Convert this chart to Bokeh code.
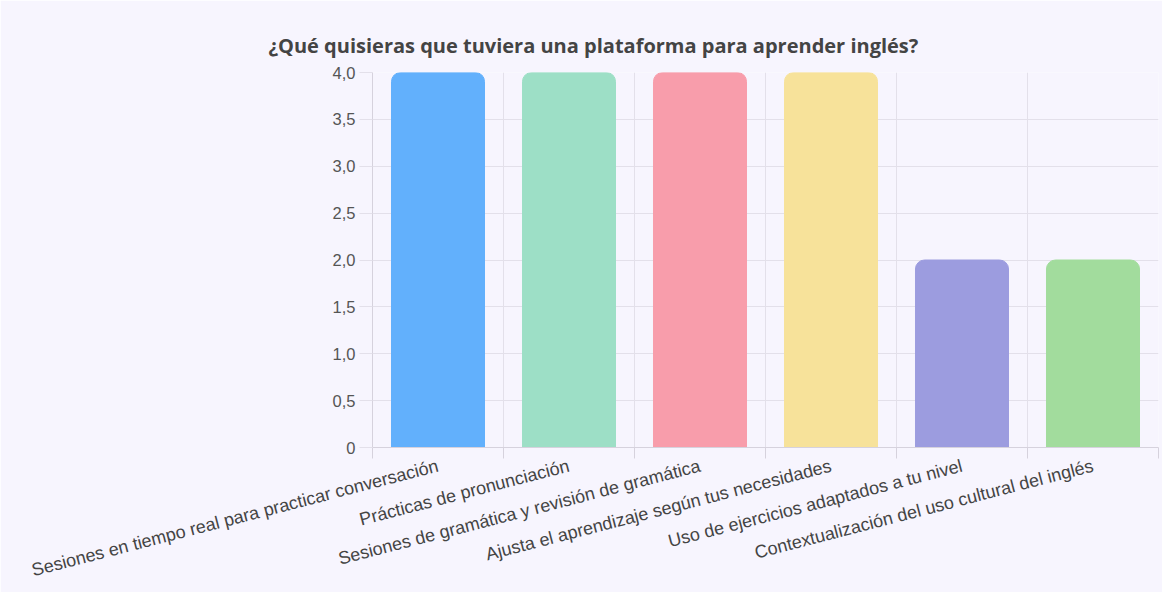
from bokeh.plotting import figure
from bokeh.models import ColumnDataSource, FixedTicker, CustomJSTickFormatter, Range1d
from bokeh.embed import file_html
from bokeh.resources import INLINE
import math

title = "¿Qué quisieras que tuviera una plataforma para aprender inglés?"
categories = [
    "Sesiones en tiempo real para practicar conversación",
    "Prácticas de pronunciación",
    "Sesiones de gramática y revisión de gramática",
    "Ajusta el aprendizaje según tus necesidades",
    "Uso de ejercicios adaptados a tu nivel",
    "Contextualización del uso cultural del inglés",
]
values = [4, 4, 4, 4, 2, 2]
colors = ["#62b0fc", "#9ddfc6", "#f89dab", "#f7e29a", "#9c9cdf", "#a2dc9d"]
y_ticks = [0, 0.5, 1, 1.5, 2, 2.5, 3, 3.5, 4]

n = len(categories)
xs = list(range(n))
src = ColumnDataSource(dict(x=xs, top=values, color=colors, label=categories))

BG = "#f7f5fe"
p = figure(width=1162, height=592, output_backend="svg", toolbar_location=None,
           x_range=Range1d(-0.5, n - 0.5), y_range=Range1d(0, 4),
           background_fill_color=BG, border_fill_color=BG,
           min_border_left=372, min_border_right=4, min_border_top=72, min_border_bottom=139)
p.outline_line_color = None

p.vbar(x="x", top="top", width=0.71, bottom=0, source=src, fill_color="color",
       line_color="color", line_alpha=1, border_radius=(9, 9, 0, 0))

p.title.text = title
p.title.text_font = "Open Sans"
p.title.text_font_size = "20px"
p.title.text_font_style = "bold"
p.title.text_color = "#444444"
p.title.align = "left"
p.title.offset = -104
p.title.standoff = 28

# x axis
boundaries = [i - 0.5 for i in range(n + 1)]
p.xaxis.ticker = FixedTicker(ticks=xs, minor_ticks=boundaries)
p.xaxis.formatter = CustomJSTickFormatter(args=dict(labels=categories),
                                          code="return labels[Math.round(tick)] || '';")
p.xaxis.major_label_orientation = math.radians(14.5)
p.xaxis.major_tick_line_color = None
p.xaxis.minor_tick_out = 11
p.xaxis.minor_tick_in = 0
p.xaxis.minor_tick_line_color = "#d6d2dd"
p.xaxis.axis_line_color = "#d6d2dd"
p.xaxis.major_label_text_font = "Liberation Sans"
p.xaxis.major_label_text_font_size = "18px"
p.xaxis.major_label_text_color = "#444444"
p.xaxis.major_label_standoff = 7
p.xgrid.ticker = FixedTicker(ticks=boundaries)
p.xgrid.grid_line_color = "#e3e0ea"

# y axis
p.yaxis.ticker = FixedTicker(ticks=y_ticks)
p.yaxis.formatter = CustomJSTickFormatter(
    code="return tick == 0 ? '0' : tick.toFixed(1).replace('.', ',');")
p.yaxis.major_tick_out = 13
p.yaxis.major_tick_in = 0
p.yaxis.major_tick_line_color = "#e3e0ea"
p.yaxis.minor_tick_line_color = None
p.yaxis.axis_line_color = "#d6d2dd"
p.yaxis.major_label_text_font = "Liberation Sans"
p.yaxis.major_label_text_font_size = "16.5px"
p.yaxis.major_label_text_color = "#555555"
p.yaxis.major_label_standoff = 4
p.ygrid.grid_line_color = "#e3e0ea"

open("out.html", "w").write(file_html(p, INLINE))
